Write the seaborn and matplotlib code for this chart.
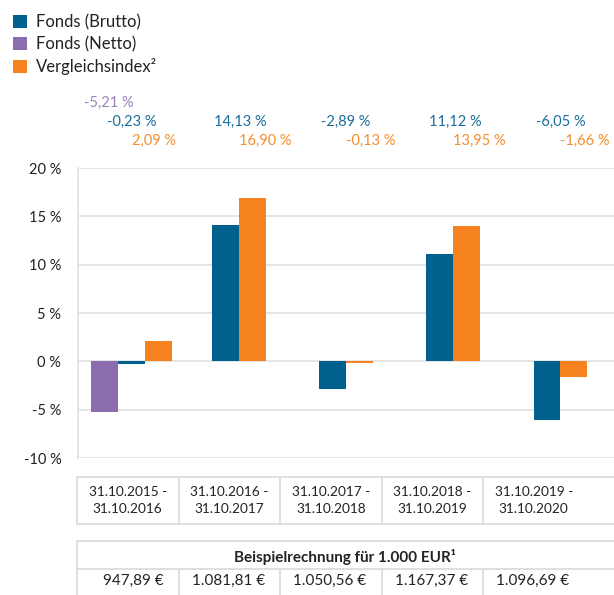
import numpy as np
import pandas as pd
import matplotlib.pyplot as plt
import matplotlib.transforms as mtransforms
from matplotlib.patches import Patch
from matplotlib.lines import Line2D
import seaborn as sns

# Data
periods = ["31.10.2015 -\n31.10.2016", "31.10.2016 -\n31.10.2017", "31.10.2017 -\n31.10.2018",
           "31.10.2018 -\n31.10.2019", "31.10.2019 -\n31.10.2020"]
fonds_netto = [-5.21, np.nan, np.nan, np.nan, np.nan]
fonds_brutto = [-0.23, 14.13, -2.89, 11.12, -6.05]
vergleichsindex = [2.09, 16.90, -0.13, 13.95, -1.66]
beispiel_eur = ["947,89 €", "1.081,81 €", "1.050,56 €", "1.167,37 €", "1.096,69 €"]
y_ticks = [-10, -5, 0, 5, 10, 15, 20]

series_names = ["Fonds (Netto)", "Fonds (Brutto)", "Vergleichsindex²"]
series_values = [fonds_netto, fonds_brutto, vergleichsindex]
colors = {"Fonds (Brutto)": "#00618f", "Fonds (Netto)": "#8b6daf", "Vergleichsindex²": "#f5821f"}
text_colors = {"Fonds (Brutto)": "#1a6e9c", "Fonds (Netto)": "#9b82bd", "Vergleichsindex²": "#f58e2e"}

# bars in a group are centred on the group, only for values that exist
bar_w = 0.25
rows = []
for i in range(len(periods)):
    present = [(name, vals[i]) for name, vals in zip(series_names, series_values) if not np.isnan(vals[i])]
    n = len(present)
    for k, (name, v) in enumerate(present):
        rows.append({"pos": i + (k - (n - 1) / 2) * bar_w, "value": v, "series": name})
df = pd.DataFrame(rows)

sns.set_style("white")
plt.rcParams['font.family'] = ['Lato', 'DejaVu Sans']

fig = plt.figure(figsize=(6.14, 5.95), dpi=100)
W, H = 614, 595
ax = fig.add_axes([78 / W, 1 - 458 / H, 1 - 78 / W, (458 - 168) / H])

sns.barplot(data=df, x="pos", y="value", hue="series", hue_order=series_names,
            palette=colors, native_scale=True, dodge=False, width=1.0,
            errorbar=None, legend=False, ax=ax, saturation=1)
for p in ax.patches:
    p.set_linewidth(0)

ax.set_xlim(-0.5, 4.5)
ax.set_ylim(-10, 20)
ax.set_yticks(y_ticks)
ax.set_yticklabels([f"{t} %" for t in y_ticks], fontsize=10.5, color="#222222")
ax.set_xticks([])
ax.set_xlabel("")
ax.set_ylabel("")
ax.grid(axis="y", color="#e3e3e3", linewidth=1.3)
ax.set_axisbelow(True)
ax.tick_params(axis="y", length=3, color="#e3e3e3", pad=9, width=1.3)
for s in ["top", "right", "bottom"]:
    ax.spines[s].set_visible(False)
ax.spines["left"].set_color("#e3e3e3")
ax.spines["left"].set_linewidth(1.3)

# value labels above the plot
tr = mtransforms.blended_transform_factory(ax.transData, fig.transFigure)
label_rows = [("Fonds (Netto)", fonds_netto, -0.44, 103),
              ("Fonds (Brutto)", fonds_brutto, -0.23, 122),
              ("Vergleichsindex²", vergleichsindex, 0.0, 141)]
for name, vals, off, ypx in label_rows:
    for i, v in enumerate(vals):
        if np.isnan(v):
            continue
        ax.text(i + off, 1 - ypx / H, f"{v:.2f}".replace(".", ",") + " %", transform=tr,
                ha="left", va="center", fontsize=10.5, color=text_colors[name])

# legend
handles = [Patch(facecolor=colors[n], edgecolor="none") for n in ["Fonds (Brutto)", "Fonds (Netto)", "Vergleichsindex²"]]
fig.legend(handles, ["Fonds (Brutto)", "Fonds (Netto)", "Vergleichsindex²"], loc="upper left",
           bbox_to_anchor=(-2 / W, 1 + 1 / H), frameon=False, fontsize=12,
           handlelength=0.85, handleheight=0.85, handletextpad=0.5, labelspacing=0.36,
           labelcolor="#222222")

# tables below
line_c = "#dcdcdc"
def hline(x0, x1, y):
    fig.add_artist(Line2D([x0 / W, x1 / W], [1 - y / H, 1 - y / H], color=line_c, lw=1.3))
def vline(x, y0, y1):
    fig.add_artist(Line2D([x / W, x / W], [1 - y0 / H, 1 - y1 / H], color=line_c, lw=1.3))

col_w = 101.5
x_start = 77
tab_right = 616
# period box
hline(x_start, tab_right, 477)
hline(x_start, tab_right, 524)
vline(x_start, 477, 524)
for i in range(1, 5):
    vline(x_start + i * col_w, 477, 524)
for i, p in enumerate(periods):
    fig.text((x_start + (i + 0.5) * col_w) / W, 1 - 500.5 / H, p, ha="center", va="center",
             fontsize=9.8, color="#222222", linespacing=1.55)

# Beispielrechnung box
hline(x_start, tab_right, 541)
hline(x_start, tab_right, 569)
vline(x_start, 541, 596)
for i in range(1, 5):
    vline(x_start + i * col_w, 569, 596)
fig.text(345 / W, 1 - 557 / H, "Beispielrechnung für 1.000 EUR¹",
         ha="center", va="center", fontsize=11, fontweight="bold", color="#222222")
for i, v in enumerate(beispiel_eur):
    fig.text((x_start + (i + 1) * col_w - 15) / W, 1 - 581 / H, v, ha="right", va="center",
             fontsize=11, color="#222222")

fig.savefig("out.png", dpi=100)
